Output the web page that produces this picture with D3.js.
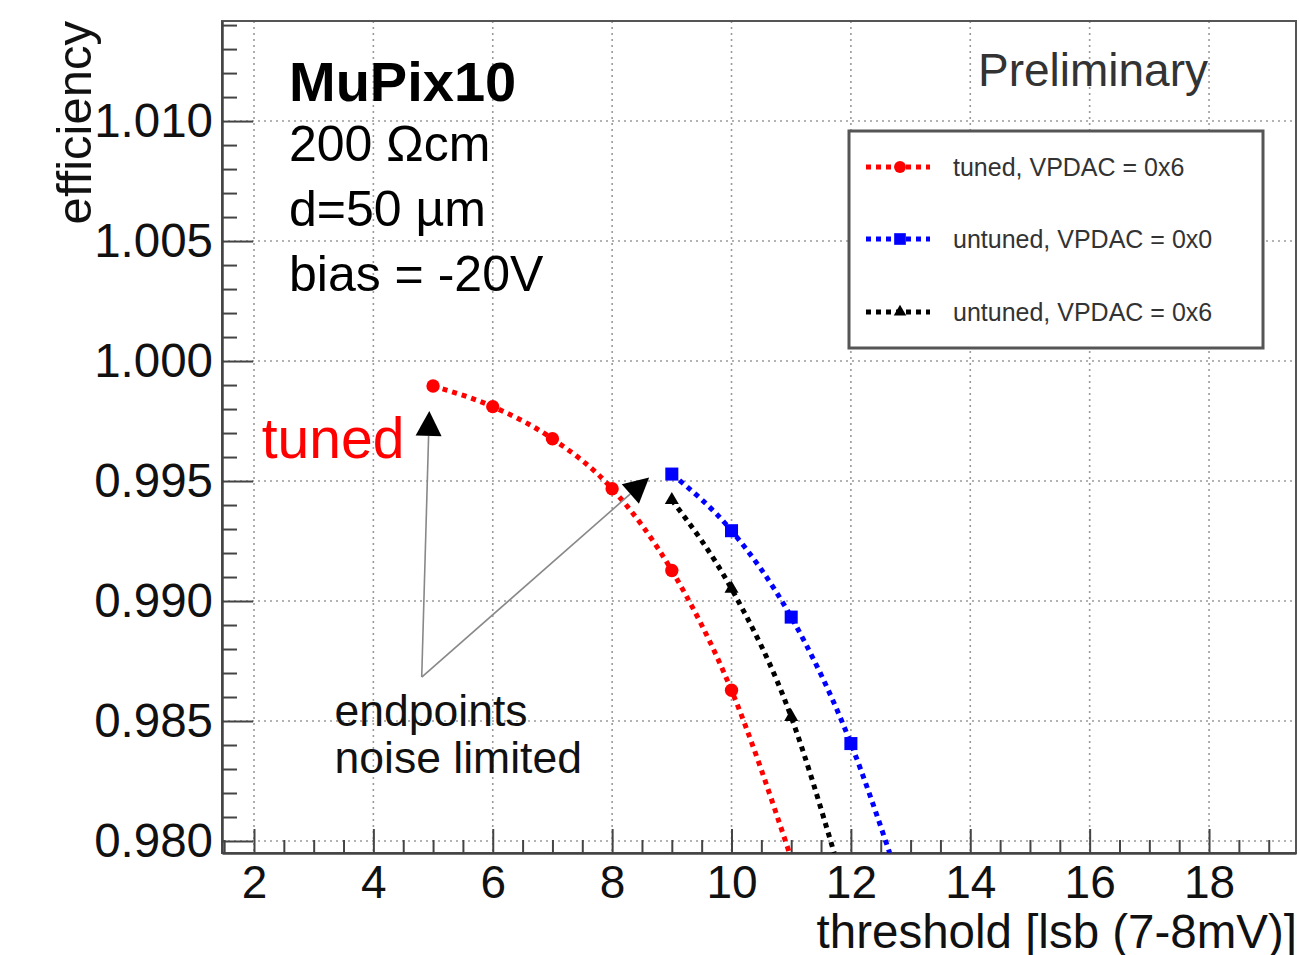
<!doctype html>
<html>
<head>
<meta charset="utf-8">
<style>
    body {
        margin: 0;
        background: #fff;
        font-family: "Liberation Sans", Arial, Helvetica, sans-serif;
    }
    .grid line {
        stroke: #9a9a9a;
        stroke-width: 1.6;
        stroke-dasharray: 2 4;
    }
    .axis path, .axis line {
        stroke: #444;
    }
    .axis text {
        font-family: "Liberation Sans", Arial, sans-serif;
        fill: #111;
    }
    .fit {
        fill: none;
        stroke-width: 5;
        stroke-dasharray: 5 5;
    }
</style>
<script src="https://d3js.org/d3.v7.min.js"></script>
</head>
<body>
<svg width="1300" height="955"></svg>
<script>
// ---- data ----
var tunedX = [5, 6, 7, 8, 9, 10];
var tunedEff = [0.99896, 0.99810, 0.99676, 0.99468, 0.99127, 0.98628];

var untuned0X = [9, 10, 11, 12];
var untuned0Eff = [0.99529, 0.99293, 0.98933, 0.98406];

var untuned6X = [9, 10, 11];
var untuned6Eff = [0.99421, 0.99051, 0.98517];

// where each dotted fit curve leaves the bottom of the frame
var fitEndX = [10.97, 12.65, 11.72];
var fitEndEff = [0.9795, 0.9795, 0.9795];

var seriesNames = ["tuned, VPDAC = 0x6", "untuned, VPDAC = 0x0", "untuned, VPDAC = 0x6"];
var seriesColors = ["#ff0000", "#0000ff", "#000000"];

var xMajor = [2, 4, 6, 8, 10, 12, 14, 16, 18];
var yMajor = [0.980, 0.985, 0.990, 0.995, 1.000, 1.005, 1.010];
var yLabels = ["0.980", "0.985", "0.990", "0.995", "1.000", "1.005", "1.010"];

var infoLines = ["200 \u03A9cm", "d=50 \u00B5m", "bias = -20V"];

// ---- layout ----
var svg = d3.select("svg");
var fLeft = 222, fRight = 1296, fTop = 21, fBottom = 853;

var x = d3.scaleLinear().domain([1.464, 19.457]).range([fLeft, fRight]);
var y = d3.scaleLinear().domain([0.9795, 1.01417]).range([fBottom, fTop]);

var xMinor = d3.range(1.5, 19.5, 0.5).filter(function(v) { return v % 2 !== 0; });
var yMinor = d3.range(0.980, 1.0141, 0.001).filter(function(v) {
    return Math.abs(Math.round(v * 200) - v * 200) > 0.01;
});

svg.append("clipPath").attr("id", "plotclip")
    .append("rect")
    .attr("x", fLeft).attr("y", fTop)
    .attr("width", fRight - fLeft).attr("height", fBottom - fTop);

// grid
var grid = svg.append("g").attr("class", "grid");
grid.selectAll(".gx").data(xMajor).enter().append("line")
    .attr("x1", function(d) { return x(d); })
    .attr("x2", function(d) { return x(d); })
    .attr("y1", fTop).attr("y2", fBottom);
grid.selectAll(".gy").data(yMajor).enter().append("line")
    .attr("x1", fLeft).attr("x2", fRight)
    .attr("y1", function(d) { return y(d); })
    .attr("y2", function(d) { return y(d); });

// frame (top/right)
svg.append("rect")
    .attr("x", fLeft).attr("y", fTop)
    .attr("width", fRight - fLeft).attr("height", fBottom - fTop)
    .attr("fill", "none").attr("stroke", "#555").attr("stroke-width", 2);

// x axis
var xAxis = svg.append("g").attr("class", "axis")
    .attr("transform", "translate(0," + fBottom + ")")
    .call(d3.axisBottom(x).tickValues(xMajor).tickSize(-24).tickSizeOuter(0).tickPadding(12));
xAxis.selectAll("text").attr("font-size", 46);
xAxis.select(".domain").attr("stroke-width", 2.5);
xAxis.selectAll(".tick line").attr("stroke-width", 2);

svg.append("g").attr("class", "axis")
    .attr("transform", "translate(0," + fBottom + ")")
    .call(d3.axisBottom(x).tickValues(xMinor).tickSize(-13).tickFormat(""))
    .call(function(g) { g.select(".domain").remove(); })
    .selectAll(".tick line").attr("stroke-width", 2);

// y axis
var yAxis = svg.append("g").attr("class", "axis")
    .attr("transform", "translate(" + fLeft + ",0)")
    .call(d3.axisLeft(y).tickValues(yMajor).tickSize(-31).tickSizeOuter(0).tickPadding(9)
        .tickFormat(function(d, i) { return yLabels[i]; }));
yAxis.selectAll("text").attr("font-size", 47.5);
yAxis.select(".domain").attr("stroke-width", 2.5);
yAxis.selectAll(".tick line").attr("stroke-width", 2);

svg.append("g").attr("class", "axis")
    .attr("transform", "translate(" + fLeft + ",0)")
    .call(d3.axisLeft(y).tickValues(yMinor).tickSize(-15).tickFormat(""))
    .call(function(g) { g.select(".domain").remove(); })
    .selectAll(".tick line").attr("stroke-width", 2);

// axis titles
svg.append("text")
    .attr("x", fRight + 1).attr("y", 948)
    .attr("text-anchor", "end")
    .attr("font-size", 47.5)
    .attr("fill", "#111")
    .text("threshold [lsb (7-8mV)]");

svg.append("text")
    .attr("transform", "translate(91,21) rotate(-90)")
    .attr("text-anchor", "end")
    .attr("font-size", 49)
    .attr("fill", "#111")
    .text("efficiency");

// series
var series = [
    { xs: tunedX, ys: tunedEff, symbol: d3.symbolCircle, size: 140 },
    { xs: untuned0X, ys: untuned0Eff, symbol: d3.symbolSquare, size: 170 },
    { xs: untuned6X, ys: untuned6Eff, symbol: d3.symbolTriangle, size: 85 }
];

var line = d3.line()
    .x(function(d) { return x(d[0]); })
    .y(function(d) { return y(d[1]); })
    .curve(d3.curveMonotoneX);

var plot = svg.append("g").attr("clip-path", "url(#plotclip)");

series.forEach(function(s, i) {
    var pts = s.xs.map(function(v, j) { return [v, s.ys[j]]; });
    var fitPts = pts.concat([[fitEndX[i], fitEndEff[i]]]);
    plot.append("path")
        .attr("class", "fit")
        .attr("stroke", seriesColors[i])
        .attr("d", line(fitPts));
    plot.selectAll(".m" + i).data(pts).enter().append("path")
        .attr("transform", function(d) { return "translate(" + x(d[0]) + "," + y(d[1]) + ")"; })
        .attr("d", d3.symbol().type(s.symbol).size(s.size))
        .attr("fill", seriesColors[i]);
});

// annotations (positions in data units)
var arrowFrom = [4.81, 0.98683];
var arrowTips = [[4.937, 0.99792], [8.62, 0.99515]];
var ann = svg.append("g");
arrowTips.forEach(function(t) {
    var x0 = x(arrowFrom[0]), y0 = y(arrowFrom[1]);
    var x1 = x(t[0]), y1 = y(t[1]);
    var ang = Math.atan2(y1 - y0, x1 - x0);
    var len = 25, half = 13;
    var bx = x1 - len * Math.cos(ang), by = y1 - len * Math.sin(ang);
    ann.append("line")
        .attr("x1", x0).attr("y1", y0).attr("x2", bx).attr("y2", by)
        .attr("stroke", "#888").attr("stroke-width", 1.6);
    var px = -Math.sin(ang) * half, py = Math.cos(ang) * half;
    ann.append("path")
        .attr("d", "M" + x1 + "," + y1 + "L" + (bx + px) + "," + (by + py) +
            "L" + (bx - px) + "," + (by - py) + "Z")
        .attr("fill", "#000");
});

ann.append("text")
    .attr("x", x(2.13)).attr("y", y(0.99595))
    .attr("font-size", 57).attr("fill", "#ff0000")
    .text("tuned");

ann.append("text")
    .attr("x", x(3.35)).attr("y", y(0.98481))
    .attr("font-size", 44.5).attr("fill", "#111")
    .text("endpoints");
ann.append("text")
    .attr("x", x(3.35)).attr("y", y(0.98282))
    .attr("font-size", 44.5).attr("fill", "#111")
    .text("noise limited");

// top-left info
svg.append("text")
    .attr("x", 289).attr("y", 101)
    .attr("font-size", 56).attr("font-weight", "bold").attr("fill", "#000")
    .text("MuPix10");
svg.selectAll(".info").data(infoLines).enter().append("text")
    .attr("x", 289)
    .attr("y", function(d, i) { return 161 + i * 65; })
    .attr("font-size", 50).attr("fill", "#000")
    .text(function(d) { return d; });

svg.append("text")
    .attr("x", 1208).attr("y", 86)
    .attr("text-anchor", "end")
    .attr("font-size", 46).attr("fill", "#333")
    .text("Preliminary");

// legend
var leg = svg.append("g");
leg.append("rect")
    .attr("x", 849).attr("y", 131)
    .attr("width", 414).attr("height", 217)
    .attr("fill", "#fff").attr("stroke", "#555").attr("stroke-width", 3);

var legRows = [167, 239, 312];
series.forEach(function(s, i) {
    var ry = legRows[i];
    leg.append("line")
        .attr("x1", 866).attr("x2", 930).attr("y1", ry).attr("y2", ry)
        .attr("stroke", seriesColors[i]).attr("stroke-width", 5)
        .attr("stroke-dasharray", "5 5");
    leg.append("path")
        .attr("transform", "translate(900," + ry + ")")
        .attr("d", d3.symbol().type(s.symbol).size(s.size * 0.8))
        .attr("fill", seriesColors[i]);
    leg.append("text")
        .attr("x", 953).attr("y", ry)
        .attr("dy", "0.35em")
        .attr("font-size", 25).attr("fill", "#333")
        .text(seriesNames[i]);
});
</script>
</body>
</html>
